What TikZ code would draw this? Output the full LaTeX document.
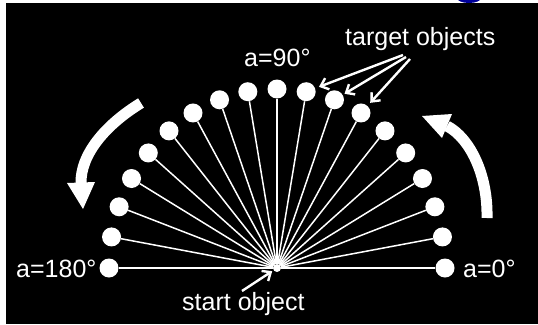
\documentclass[tikz,border=0pt]{standalone}
\usepackage{fontspec}
\setmainfont{Liberation Sans}
\usetikzlibrary{arrows.meta}
\begin{document}
\begin{tikzpicture}[x=1pt,y=-1pt,
  dot/.style={circle,fill=white,inner sep=0pt,minimum size=19pt},
  startdot/.style={circle,fill=white,inner sep=0pt,minimum size=8pt},
  ray/.style={white,line width=1.5pt},
  hray/.style={white,line width=2.2pt},
  lbl/.style={text=white,inner sep=0pt,font=\fontsize{25}{30}\selectfont,anchor=base west},
  ptr/.style={white,line width=2.4pt,-{Straight Barb[length=7pt,width=12pt]}},
  band/.style={white,line width=11pt,line cap=butt},
  bighead/.style={fill=white}]
% background
\fill[white] (0,0) rectangle (538,324);
\useasboundingbox (0,0) rectangle (538,324);
\begin{scope}
  \clip (440,0) rectangle (500,3);
  \fill[blue!60!black] (469,-2) ellipse [x radius=12pt, y radius=5pt];
\end{scope}
\fill[black] (6,3) rectangle (538,324);
% start object
\node[startdot] (s) at (277,268) {};
% target objects
\foreach \i in {0,...,18}{
  \node[dot] (t\i) at ({277+168*cos(\i*10)},{268-179*sin(\i*10)}) {};
}
\foreach \i in {1,...,17}{
  \draw[ray] (s) -- (t\i);
}
\draw[hray] (s) -- (t0);
\draw[hray] (s) -- (t18);
% labels
\node[lbl] (l180) at (16,277) {a=180°};
\node[lbl] (l0) at (463,277) {a=0°};
\node[lbl] (l90) at (244,66) {a=90°};
\node[lbl] (ltg) at (345,45) {target objects};
\node[lbl] (lst) at (182,310) {start object};
% pointer arrows
\coordinate (ta) at (403,55);
\coordinate (tb) at (406,57);
\coordinate (tc) at (410,59);
\coordinate (sa) at (242,291);
\draw[ptr,shorten >=4pt] (ta) -- (t8);
\draw[ptr,shorten >=2pt] (tb) -- (t7);
\draw[ptr,shorten >=4pt] (tc) -- (t6);
\draw[ptr,shorten >=1.5pt] (sa) -- (s);
% big rotation arrows
\draw[band] (141,103) .. controls (105,125) and (80,155) .. (81,184);
\fill[bighead] (67,183) -- (95,182) -- (83,209) -- cycle;
\draw[band] (487,218) .. controls (488,175) and (470,138) .. (447,126);
\fill[bighead] (422,116) -- (452,114) -- (442,138) -- cycle;
\end{tikzpicture}
\end{document}
